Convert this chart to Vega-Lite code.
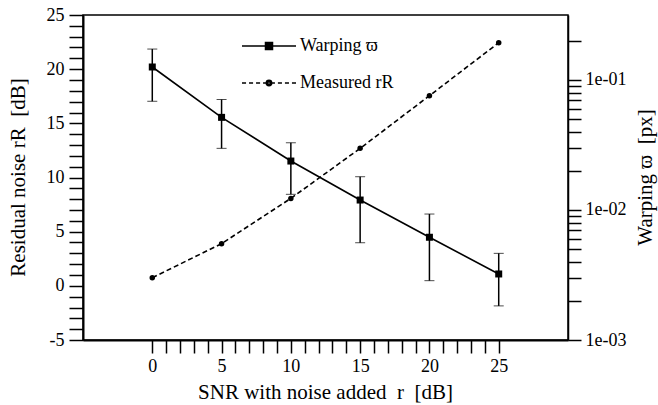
{
  "$schema": "https://vega.github.io/schema/vega-lite/v6.json",
  "width": 485,
  "height": 325,
  "autosize": {"type": "none"},
  "padding": {"left": 83, "top": 15, "right": 90, "bottom": 65},
  "background": "white",
  "config": {
    "view": {"stroke": "black", "strokeWidth": 1.5},
    "axis": {
      "labelFont": "Liberation Serif",
      "titleFont": "Liberation Serif",
      "labelFontSize": 18,
      "titleFontSize": 21,
      "titleFontWeight": "normal",
      "labelColor": "black",
      "titleColor": "black",
      "tickColor": "black",
      "domainColor": "black",
      "grid": false,
      "ticks": true,
      "tickWidth": 1.5,
      "domainWidth": 2,
      "labelOverlap": false,
      "labelBound": false,
      "labelFlush": false
    },
    "legend": {
      "labelFont": "Liberation Serif",
      "labelFontSize": 18,
      "labelColor": "black"
    }
  },
  "data": {
    "values": [
      {"x": 0, "series": "Measured rR", "v": 0.75},
      {"x": 5, "series": "Measured rR", "v": 3.89},
      {"x": 10, "series": "Measured rR", "v": 8.07},
      {"x": 15, "series": "Measured rR", "v": 12.69},
      {"x": 20, "series": "Measured rR", "v": 17.55},
      {"x": 25, "series": "Measured rR", "v": 22.44},
      {"x": 0, "series": "Warping ϖ", "v": 0.1259, "lo": 0.0686, "hi": 0.173},
      {"x": 5, "series": "Warping ϖ", "v": 0.0516, "lo": 0.0298, "hi": 0.0708},
      {"x": 10, "series": "Warping ϖ", "v": 0.0238, "lo": 0.0132, "hi": 0.0329},
      {"x": 15, "series": "Warping ϖ", "v": 0.01193, "lo": 0.0056, "hi": 0.01803},
      {"x": 20, "series": "Warping ϖ", "v": 0.00617, "lo": 0.00286, "hi": 0.00931},
      {"x": 25, "series": "Warping ϖ", "v": 0.00322, "lo": 0.00183, "hi": 0.00464}
    ]
  },
  "resolve": {"scale": {"y": "independent"}, "axis": {"y": "independent"}},
  "layer": [
    {
      "transform": [{"filter": "datum.series == 'Measured rR'"}],
      "mark": {"type": "line", "color": "black", "strokeDash": [5, 3], "strokeWidth": 1.6},
      "encoding": {
        "x": {"field": "x", "type": "quantitative", "scale": {"domain": [-5, 30], "nice": false, "zero": false},
          "axis": {"orient": "bottom",
            "values": [0, 1, 2, 3, 4, 5, 6, 7, 8, 9, 10, 11, 12, 13, 14, 15, 16, 17, 18, 19, 20, 21, 22, 23, 24, 25],
            "tickCount": 60, "tickSize": 13, "labelOverlap": false,
            "encode": {"ticks": {"update": {"y2": {"signal": "datum.value % 5 === 0 ? 13 : 7"}}}},
            "labelExpr": "datum.value % 5 === 0 ? '' + datum.value : ''",
            "labelPadding": 4,
            "title": "SNR with noise added\u00a0 r\u00a0 [dB]", "titleX": 242, "titleY": 52, "titleBaseline": "middle"}},
        "y": {"field": "v", "type": "quantitative", "scale": {"domain": [-5, 25], "nice": false, "zero": false},
          "axis": {"orient": "left",
            "values": [-5, -4, -3, -2, -1, 0, 1, 2, 3, 4, 5, 6, 7, 8, 9, 10, 11, 12, 13, 14, 15, 16, 17, 18, 19, 20, 21, 22, 23, 24, 25],
            "tickCount": 60, "tickSize": 14, "labelOverlap": false,
            "encode": {"ticks": {"update": {"x2": {"signal": "datum.value % 5 === 0 ? -14 : -6"}}}},
            "labelPadding": 5,
            "labelExpr": "datum.value % 5 !== 0 ? '' : (datum.value < 0 ? '-' + abs(datum.value) : '' + datum.value)",
            "title": "Residual noise rR\u00a0 [dB]", "titleX": -65, "titleY": 162, "titleBaseline": "middle", "titleAngle": -90}}
      }
    },
    {
      "transform": [{"filter": "datum.series == 'Measured rR'"}],
      "mark": {"type": "point", "shape": "circle", "filled": true, "color": "black", "opacity": 1, "size": 30},
      "encoding": {
        "x": {"field": "x", "type": "quantitative"},
        "y": {"field": "v", "type": "quantitative", "scale": {"domain": [-5, 25], "nice": false, "zero": false}, "axis": null}
      }
    },
    {
      "transform": [{"filter": "datum.series == 'Warping ϖ'"}],
      "mark": {"type": "line", "color": "black", "strokeWidth": 1.6},
      "encoding": {
        "x": {"field": "x", "type": "quantitative"},
        "y": {"field": "v", "type": "quantitative", "scale": {"type": "log", "domain": [0.001, 0.3162], "nice": false},
          "axis": {"orient": "right",
            "values": [0.001, 0.002, 0.003, 0.004, 0.005, 0.006, 0.007, 0.008, 0.009, 0.01, 0.02, 0.03, 0.04, 0.05, 0.06, 0.07, 0.08, 0.09, 0.1, 0.2],
            "tickCount": 60, "tickSize": 13, "labelOverlap": false,
            "encode": {"ticks": {"update": {"x2": {"signal": "(datum.value == 0.001 || datum.value == 0.01 || datum.value == 0.1) ? 13 : 7"}}}},
            "labelPadding": 4, "domainWidth": 1.5,
            "labelExpr": "(datum.value == 0.001 || datum.value == 0.01 || datum.value == 0.1) ? '1e-0' + round(-log(datum.value) / LN10) : ''",
            "title": "Warping ϖ\u00a0 [px]", "titleX": 77, "titleY": 162, "titleBaseline": "middle", "titleAngle": -90}}
      }
    },
    {
      "transform": [{"filter": "datum.series == 'Warping ϖ'"}],
      "mark": {"type": "errorbar", "color": "black", "ticks": {"size": 10, "strokeWidth": 1.5}, "rule": {"strokeWidth": 1.5}},
      "encoding": {
        "x": {"field": "x", "type": "quantitative"},
        "y": {"field": "lo", "type": "quantitative", "scale": {"type": "log", "domain": [0.001, 0.3162], "nice": false}, "axis": null},
        "y2": {"field": "hi"}
      }
    },
    {
      "transform": [{"filter": "datum.series == 'Warping ϖ'"}],
      "mark": {"type": "point", "shape": "square", "filled": true, "color": "black", "opacity": 1, "size": 49},
      "encoding": {
        "x": {"field": "x", "type": "quantitative"},
        "y": {"field": "v", "type": "quantitative", "scale": {"type": "log", "domain": [0.001, 0.3162], "nice": false}, "axis": null}
      }
    },
    {
      "mark": {"type": "point", "filled": false, "color": "black", "strokeWidth": 1.5, "opacity": 0},
      "encoding": {
        "x": {"field": "x", "type": "quantitative"},
        "y": {"field": "v", "type": "quantitative", "scale": {"domain": [-5, 25], "nice": false, "zero": false}, "axis": null},
        "shape": {"field": "series", "type": "nominal",
          "scale": {"domain": ["Warping ϖ", "Measured rR"],
            "range": [
              "M-1,0H1M-0.13,-0.13H0.13V0.13H-0.13ZM-0.13,-0.07H0.13M-0.13,-0.02H0.13M-0.13,0.03H0.13M-0.13,0.08H0.13",
              "M-1,0H-0.85M-0.74,0H-0.59M-0.48,0H-0.33M-0.22,0H-0.12M0.12,0H0.22M0.33,0H0.48M0.59,0H0.74M0.85,0H1M0.1,0A0.1,0.1,0,1,1,-0.1,0A0.1,0.1,0,1,1,0.1,0ZM0.05,0A0.05,0.05,0,1,1,-0.05,0A0.05,0.05,0,1,1,0.05,0Z"
            ]},
          "legend": {"orient": "none", "legendX": 158, "legendY": 3, "title": null, "symbolSize": 2916, "rowPadding": -23, "labelOffset": 3, "padding": 0,
            "symbolOpacity": 1, "symbolStrokeColor": "black", "symbolStrokeWidth": 1.5}}
      }
    }
  ]
}
